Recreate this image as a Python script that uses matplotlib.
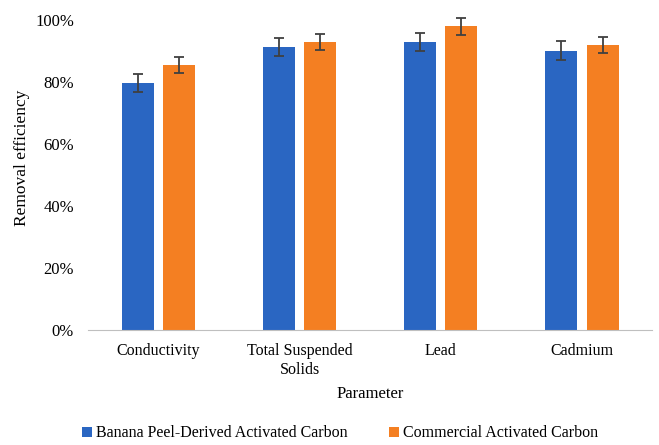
import matplotlib
matplotlib.use("Agg")
import matplotlib.pyplot as plt
import numpy as np
from matplotlib.ticker import PercentFormatter

categories = ["Conductivity", "Total Suspended\nSolids", "Lead", "Cadmium"]
series_names = ["Banana Peel-Derived Activated Carbon", "Commercial Activated Carbon"]
banana = [0.797, 0.911, 0.928, 0.900]
commercial = [0.854, 0.928, 0.979, 0.919]
banana_err = [0.030, 0.029, 0.028, 0.031]
commercial_err = [0.026, 0.026, 0.027, 0.027]

plt.rcParams['font.family'] = ['Liberation Serif', 'DejaVu Serif']

fig = plt.figure(figsize=(6.59, 4.45), dpi=100)
ax = fig.add_axes([0.1335, 0.2584, 0.856, 0.697])

x = np.arange(len(categories))
w = 0.227
gap = 0.07
off = (w + gap) / 2
ekw = dict(ecolor='#404040', elinewidth=1.3, capsize=3.5, capthick=1.3, clip_on=False)
b1 = ax.bar(x - off, banana, w, yerr=banana_err, color='#2A66C2', label=series_names[0], error_kw=ekw)
b2 = ax.bar(x + off, commercial, w, yerr=commercial_err, color='#F47F22', label=series_names[1], error_kw=ekw)

ax.set_xlim(-0.5, len(categories) - 0.5)
ax.set_ylim(0, 1.0)
ax.set_yticks(np.arange(0, 1.01, 0.2))
ax.yaxis.set_major_formatter(PercentFormatter(1.0, decimals=0))
ax.set_xticks(x)
ax.set_xticklabels(categories, fontsize=11.5, linespacing=1.3)
ax.tick_params(axis='y', labelsize=12, length=0, pad=10)
ax.tick_params(axis='x', length=0, pad=9)
for s in ['top', 'right', 'left']:
    ax.spines[s].set_visible(False)
ax.spines['bottom'].set_color('#BFBFBF')
ax.set_ylabel("Removal efficiency", fontsize=12.5)
ax.yaxis.set_label_coords(-0.1025, 0.555)
ax.set_xlabel("Parameter", fontsize=12, labelpad=6)

fig.legend(loc='lower center', bbox_to_anchor=(0.516, -0.024), ncol=2, frameon=False,
           fontsize=11.5, handlelength=0.6, handleheight=0.6, handletextpad=0.25, columnspacing=2.6)

fig.savefig("out.png", dpi=100)
